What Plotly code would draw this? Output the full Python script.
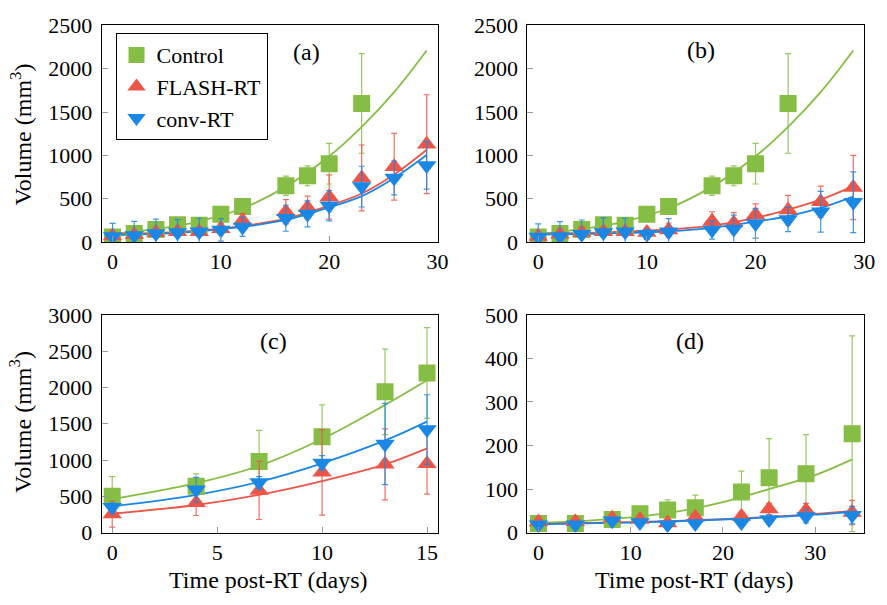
import plotly.graph_objects as go

W, H = 887, 605
GREEN = "#86bd45"
RED = "#ec5648"
BLUE = "#1a87e4"
GREEN_E = "rgba(134,189,69,0.85)"
RED_E = "rgba(236,86,72,0.85)"
BLUE_E = "rgba(26,135,228,0.85)"
FONT = "Liberation Serif, DejaVu Serif, serif"
TICK_SIZE = 22
TEXT_SIZE = 24
LEGEND_SIZE = 22

# ---------------- Data ----------------
# Panels (a) and (b)
ctrl_t_ab = [0, 2, 4, 6, 8, 10, 12, 16, 18, 20, 23]
ctrl_ab = [60, 100, 145, 200, 195, 320, 410, 650, 765, 905, 1600]
ctrl_ab_err = [40, 60, 70, 75, 70, 65, 80, 110, 115, 235, 575]

t_ab = [0, 2, 4, 6, 8, 10, 12, 16, 18, 20, 23, 26, 29]
flash_a = [70, 85, 110, 120, 120, 155, 250, 350, 400, 520, 740, 870, 1130]
flash_a_err = [50, 50, 60, 50, 55, 60, 80, 140, 130, 255, 380, 385, 570]
conv_a = [65, 75, 100, 110, 120, 140, 175, 275, 325, 420, 640, 740, 885]
conv_a_err = [150, 165, 165, 150, 155, 130, 110, 150, 150, 175, 235, 195, 275]

flash_b = [65, 90, 110, 120, 120, 110, 140, 240, 220, 315, 370, 465, 630]
flash_b_err = [50, 60, 60, 50, 55, 50, 80, 110, 120, 125, 170, 180, 370]
conv_b = [60, 65, 90, 110, 120, 90, 120, 140, 150, 215, 260, 350, 460]
conv_b_err = [150, 170, 165, 170, 155, 60, 150, 105, 160, 170, 140, 235, 350]

fit_t_ab = [0, 4, 8, 12, 16, 20, 23, 26, 29]
ctrl_fit_ab = [95, 150, 240, 390, 640, 990, 1330, 1730, 2210]
flash_fit_a = [90, 105, 135, 185, 270, 420, 560, 780, 1065]
conv_fit_a = [80, 95, 125, 175, 255, 400, 530, 740, 1005]
flash_fit_b = [95, 105, 120, 145, 190, 280, 375, 490, 645]
conv_fit_b = [85, 93, 105, 125, 165, 235, 300, 395, 525]

# Panel (c)
t_c = [0, 4, 7, 10, 13, 15]
ctrl_c = [500, 640, 980, 1320, 1940, 2200]
ctrl_c_err = [270, 170, 430, 440, 590, 625]
flash_c = [255, 410, 580, 830, 940, 950]
flash_c_err = [180, 175, 400, 590, 490, 420]
conv_c = [350, 590, 690, 960, 1220, 1420]
conv_c_err = [60, 170, 80, 100, 560, 480]
fit_t_c = [0, 4, 7, 10, 13, 15]
ctrl_fit_c = [460, 680, 920, 1290, 1760, 2100]
flash_fit_c = [260, 380, 520, 710, 940, 1160]
conv_fit_c = [360, 520, 700, 955, 1270, 1530]

# Panel (d)
t_d = [0, 4, 8, 11, 14, 17, 22, 25, 29, 34]
ctrl_d = [21, 21, 30, 43, 52, 57, 93, 126, 135, 227]
ctrl_d_err = [6, 6, 8, 10, 23, 29, 48, 90, 90, 225]
flash_d = [24, 25, 33, 30, 22, 35, 37, 54, 51, 46]
flash_d_err = [8, 8, 8, 8, 8, 8, 10, 13, 16, 28]
conv_d = [18, 18, 27, 23, 18, 21, 23, 30, 37, 40]
conv_d_err = [6, 6, 8, 6, 8, 8, 8, 10, 15, 20]
fit_t_d = [0, 5, 10, 15, 20, 25, 30, 34]
ctrl_fit_d = [22, 27, 35, 48, 70, 100, 132, 168]
flash_fit_d = [20, 22, 24, 27, 31, 36, 43, 50]
conv_fit_d = [19, 21, 23, 26, 30, 35, 41, 47]

names = ["Control", "FLASH-RT", "conv-RT"]
symbols = ["square", "triangle-up", "triangle-down"]
colors = [GREEN, RED, BLUE]
ecolors = [GREEN_E, RED_E, BLUE_E]

panels = [
    dict(xa="x", ya="y",
         series=[(ctrl_t_ab, ctrl_ab, ctrl_ab_err), (t_ab, flash_a, flash_a_err), (t_ab, conv_a, conv_a_err)],
         fits=[(fit_t_ab, ctrl_fit_ab), (fit_t_ab, flash_fit_a), (fit_t_ab, conv_fit_a)]),
    dict(xa="x2", ya="y2",
         series=[(ctrl_t_ab, ctrl_ab, ctrl_ab_err), (t_ab, flash_b, flash_b_err), (t_ab, conv_b, conv_b_err)],
         fits=[(fit_t_ab, ctrl_fit_ab), (fit_t_ab, flash_fit_b), (fit_t_ab, conv_fit_b)]),
    dict(xa="x3", ya="y3",
         series=[(t_c, ctrl_c, ctrl_c_err), (t_c, flash_c, flash_c_err), (t_c, conv_c, conv_c_err)],
         fits=[(fit_t_c, ctrl_fit_c), (fit_t_c, flash_fit_c), (fit_t_c, conv_fit_c)]),
    dict(xa="x4", ya="y4",
         series=[(t_d, ctrl_d, ctrl_d_err), (t_d, flash_d, flash_d_err), (t_d, conv_d, conv_d_err)],
         fits=[(fit_t_d, ctrl_fit_d), (fit_t_d, flash_fit_d), (fit_t_d, conv_fit_d)]),
]

fig = go.Figure()
for pi, p in enumerate(panels):
    for k in range(3):
        ft, fv = p["fits"][k]
        fig.add_trace(go.Scatter(x=ft, y=fv, mode="lines", line=dict(color=colors[k], width=1.8, shape="spline"),
                                 xaxis=p["xa"], yaxis=p["ya"], showlegend=False, hoverinfo="skip"))
    for k in range(3):
        st, sv, se = p["series"][k]
        fig.add_trace(go.Scatter(x=st, y=sv, mode="markers",
                                 marker=dict(symbol=symbols[k], size=17, color=colors[k], line=dict(width=0)),
                                 error_y=dict(type="data", array=se, color=ecolors[k], thickness=1.2, width=3),
                                 xaxis=p["xa"], yaxis=p["ya"], name=names[k], showlegend=(pi == 0)))

def px_x(v):
    return v / W

def px_y(v):
    return 1 - v / H

def axis(dom, rng, tv, anchor, standoff):
    return dict(domain=dom, range=rng, tickvals=tv, ticks="inside", ticklen=6, tickcolor="#999999",
                mirror=True, showline=True, linecolor="black", linewidth=1, showgrid=False, zeroline=False,
                tickfont=dict(family=FONT, size=TICK_SIZE, color="black"), anchor=anchor,
                ticklabelstandoff=standoff)

xL = [px_x(103), px_x(443)]
xR = [px_x(534), px_x(875)]
yT = [px_y(240), px_y(14)]
yB = [px_y(543), px_y(316)]

fig.update_layout(
    width=W, height=H, margin=dict(l=0, r=0, t=0, b=0),
    paper_bgcolor="white", plot_bgcolor="white",
    font=dict(family=FONT, size=TEXT_SIZE, color="black"),
    xaxis=axis(xL, [-1, 30], [0, 10, 20, 30], "y", 0),
    yaxis=axis(yT, [0, 2500], [0, 500, 1000, 1500, 2000, 2500], "x", 4),
    xaxis2=axis(xR, [-1, 30], [0, 10, 20, 30], "y2", 0),
    yaxis2=axis(yT, [0, 2500], [0, 500, 1000, 1500, 2000, 2500], "x2", 4),
    xaxis3=axis(xL, [-0.5, 15.5], [0, 5, 10, 15], "y3", 0),
    yaxis3=axis(yB, [0, 3000], [0, 500, 1000, 1500, 2000, 2500, 3000], "x3", 4),
    xaxis4=axis(xR, [-1.2, 35.3], [0, 10, 20, 30], "y4", 0),
    yaxis4=axis(yB, [0, 500], [0, 100, 200, 300, 400, 500], "x4", 4),
    legend=dict(x=px_x(117), y=px_y(22), xanchor="left", yanchor="top", bordercolor="black", borderwidth=1,
                bgcolor="white", itemwidth=30, font=dict(family=FONT, size=LEGEND_SIZE, color="black")),
    showlegend=True,
)

ann = []
for txt, x, y in [("(a)", 310, 42), ("(b)", 710, 40), ("(c)", 277, 343), ("(d)", 699, 343)]:
    ann.append(dict(text=txt, x=px_x(x), y=px_y(y), xref="paper", yref="paper", showarrow=False,
                    font=dict(family=FONT, size=TEXT_SIZE, color="black"), xanchor="center", yanchor="middle"))
for y in [128, 428]:
    ann.append(dict(text="Volume (mm<sup>3</sup>)", x=px_x(21), y=px_y(y), xref="paper", yref="paper",
                    showarrow=False, textangle=-90, font=dict(family=FONT, size=TEXT_SIZE, color="black"),
                    xanchor="center", yanchor="middle"))
for x in [272, 703]:
    ann.append(dict(text="Time post-RT (days)", x=px_x(x), y=px_y(592), xref="paper", yref="paper",
                    showarrow=False, font=dict(family=FONT, size=TEXT_SIZE, color="black"),
                    xanchor="center", yanchor="middle"))
fig.update_layout(annotations=ann)

fig.write_html("out.html")
